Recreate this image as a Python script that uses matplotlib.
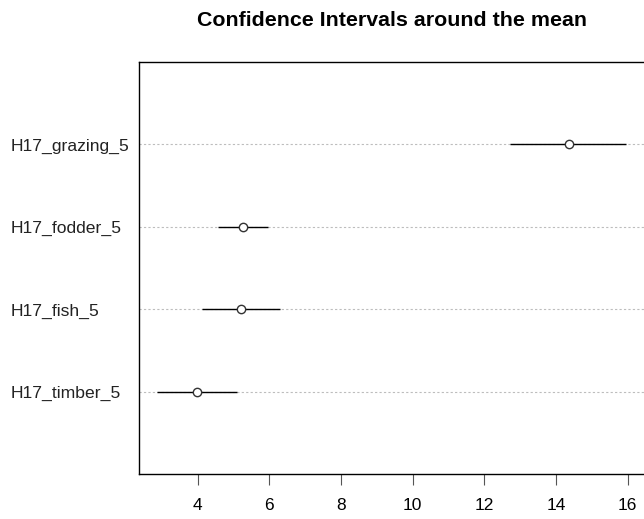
import matplotlib
matplotlib.use("Agg")
import matplotlib.pyplot as plt

# confidence intervals per indicator (bottom to top)
labels = ["H17_timber_5", "H17_fish_5", "H17_fodder_5", "H17_grazing_5"]
means = [3.98, 5.20, 5.26, 14.36]
lower = [2.88, 4.12, 4.58, 12.72]
upper = [5.09, 6.30, 5.98, 15.97]
xticks = [4, 6, 8, 10, 12, 14, 16]

plt.rcParams["font.family"] = ["Liberation Sans", "DejaVu Sans"]

fig = plt.figure(figsize=(6.44, 5.19), dpi=100)
ax = fig.add_axes([0.2166, 0.0867, 0.7856, 0.7938])

rows = range(1, len(labels) + 1)
for y in rows:
    ax.axhline(y, color="#bdbdbd", lw=0.8, ls=(0, (2, 2)), zorder=1)
ax.hlines(rows, lower, upper, color="black", lw=1.0, zorder=2)
ax.scatter(means, rows, s=36, facecolor="white", edgecolor="#333333",
           linewidths=1.0, zorder=3)

ax.set_xlim(2.38, 16.5)
ax.set_ylim(0, len(labels) + 1)
ax.set_xticks(xticks)
ax.set_xticklabels([str(t) for t in xticks], fontsize=12.5)
ax.tick_params(axis="x", length=8, width=0.8, color="#555555", pad=9)
ax.set_yticks([])
for y, lab in zip(rows, labels):
    fig.text(11 / 644, (519 - (474 - (y / 5) * 412)) / 519 - 0.004, lab,
             fontsize=12.6, ha="left", va="center", color="#222222")

for sp in ax.spines.values():
    sp.set_linewidth(1.0)
    sp.set_color("black")

fig.text(0.608, 1 - 20 / 519, "Confidence Intervals around the mean",
         fontsize=15.4, fontweight="bold", ha="center", va="center")

fig.savefig("out.png", dpi=100)
